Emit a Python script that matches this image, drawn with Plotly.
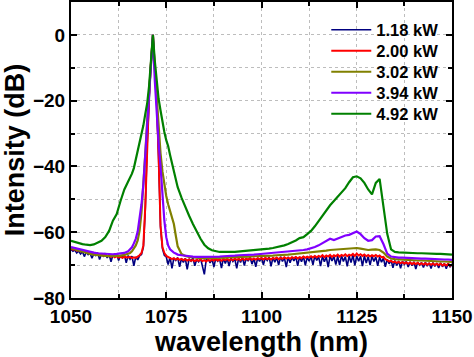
import numpy as np
import plotly.graph_objects as go

# ---------------- data ----------------
# wavelength grid for smooth traces (finer around the signal peak)
wl_coarse = list(range(1050, 1066)) + [1065.5 + 0.5 * i for i in range(26)] + list(range(1079, 1151))
# wavelength grid for noisy low-power traces
wl_fine = [1050 + 0.5 * i for i in range(201)]

series_names = ["1.18 kW", "2.00 kW", "3.02 kW", "3.94 kW", "4.92 kW"]

int_118 = [
    -65.2, -65.8, -65.4, -66.3, -65.7, -66.6, -65.9, -67.4, -66.1, -66.8,
    -66.3, -67.9, -66.5, -67.1, -66.2, -68.3, -66.6, -67.3, -66.4, -67.8,
    -66.7, -69.0, -66.9, -67.5, -66.6, -68.6, -67.0, -67.7, -66.8, -69.3,
    -67.1, -68.2, -67.3, -70.2, -67.5, -68.4, -67.2, -66.8, -64.5, -53.0,
    -33.0, -18.5, -8.2, 0.0, -10.5, -21.0, -38.0, -58.5, -65.0, -67.0,
    -67.5, -69.8, -67.6, -71.0, -67.9, -68.6, -67.7, -70.5, -68.0, -69.2,
    -67.9, -71.3, -68.1, -68.8, -67.8, -70.2, -68.2, -69.0, -67.9, -70.0,
    -72.8, -68.3, -68.0, -69.3, -68.1, -70.6, -67.9, -68.8, -68.2, -70.9,
    -67.8, -69.5, -68.0, -70.3, -67.7, -68.9, -68.1, -71.0, -67.9, -69.2,
    -67.7, -70.1, -67.9, -68.8, -67.6, -69.7, -68.0, -70.5, -67.8, -68.9,
    -67.6, -69.9, -67.8, -68.6, -67.5, -70.4, -67.7, -69.1, -67.6, -70.0,
    -67.4, -68.9, -67.7, -70.6, -67.5, -69.3, -67.6, -68.7, -67.4, -70.2,
    -67.5, -69.0, -67.3, -70.1, -67.6, -68.8, -67.4, -69.9, -67.2, -68.6,
    -67.4, -70.3, -67.3, -69.0, -67.5, -70.6, -67.2, -68.7, -67.4, -69.8,
    -67.3, -70.0, -67.1, -68.9, -67.4, -70.4, -67.2, -69.2, -67.0, -70.1,
    -67.2, -68.8, -67.3, -70.3, -67.1, -69.4, -67.4, -70.0, -67.3, -68.9,
    -67.5, -70.2, -67.6, -69.1, -67.9, -70.5, -68.2, -69.6, -68.4, -70.8,
    -68.6, -70.1, -68.7, -71.0, -68.8, -69.8, -68.9, -70.6, -69.0, -70.2,
    -69.0, -71.2, -69.1, -70.0, -69.2, -70.7, -69.1, -70.3, -69.3, -71.0,
    -69.2, -70.4, -69.4, -70.9, -69.3, -70.5, -69.5, -71.1, -69.4, -70.6,
    -69.6,
]

int_200 = [
    -65.0, -65.3, -65.1, -65.6, -65.4, -65.8, -65.6, -66.0, -65.9, -66.2,
    -66.1, -66.5, -66.3, -66.7, -66.5, -66.9, -66.8, -67.1, -66.9, -67.3,
    -67.1, -67.5, -67.2, -67.6, -67.3, -67.7, -67.4, -67.8, -67.5, -67.6,
    -67.7, -67.5, -67.9, -67.6, -67.8, -67.4, -67.0, -66.3, -64.0, -52.0,
    -32.0, -18.0, -8.0, 0.0, -10.0, -20.0, -37.0, -58.0, -64.5, -66.3,
    -67.2, -67.6, -67.8, -68.2, -67.9, -68.3, -68.0, -68.4, -68.1, -68.5,
    -68.2, -68.6, -68.3, -68.7, -68.4, -68.8, -68.4, -68.7, -68.3, -68.8,
    -68.5, -68.9, -68.4, -68.7, -68.3, -68.6, -68.2, -68.6, -68.3, -68.7,
    -68.2, -68.5, -68.1, -68.6, -68.2, -68.5, -68.0, -68.4, -68.1, -68.5,
    -68.0, -68.4, -68.1, -68.3, -67.9, -68.4, -68.0, -68.3, -67.9, -68.2,
    -67.9, -68.3, -67.8, -68.2, -67.9, -68.3, -67.8, -68.1, -67.7, -68.2,
    -67.8, -68.1, -67.6, -68.0, -67.7, -68.1, -67.6, -67.9, -67.5, -68.0,
    -67.6, -67.9, -67.4, -67.8, -67.4, -67.7, -67.3, -67.7, -67.2, -67.6,
    -67.2, -67.5, -67.0, -67.6, -67.1, -67.4, -66.9, -67.5, -67.0, -67.3,
    -66.8, -67.4, -66.9, -67.2, -66.7, -67.3, -66.8, -67.1, -66.6, -67.2,
    -66.5, -67.1, -66.7, -67.2, -66.8, -67.3, -66.9, -67.4, -67.0, -67.3,
    -66.9, -67.4, -67.1, -67.6, -67.5, -68.2, -68.5, -68.9, -68.7, -69.1,
    -68.9, -69.3, -69.0, -69.4, -69.1, -69.5, -69.2, -69.6, -69.2, -69.7,
    -69.3, -69.7, -69.3, -69.8, -69.4, -69.8, -69.4, -69.9, -69.5, -69.9,
    -69.5, -70.0, -69.6, -70.0, -69.6, -70.1, -69.7, -70.1, -69.7, -70.2,
    -69.8,
]

int_302 = [
    -64.8, -65.2, -65.6, -66.0, -66.3, -66.6, -66.8, -67.0, -67.1, -67.2,
    -67.3, -67.3, -67.2, -67.1, -66.9, -66.6,
    -66.3, -65.8, -65.0, -64.0, -62.5, -59.5, -54.0, -46.0, -36.0, -26.0,
    -17.0, -8.0, 0.0, -10.5, -20.0, -29.0, -36.0, -41.5, -45.5, -49.0,
    -51.5, -53.5, -55.2, -57.5, -61.0, -64.3,
    -66.6, -67.2, -67.5, -67.7, -67.8, -67.9, -67.9, -67.9, -67.9, -67.8,
    -67.8, -67.7, -67.7, -67.6, -67.6, -67.5, -67.5, -67.4, -67.4, -67.3,
    -67.3, -67.2, -67.2, -67.1, -67.1, -67.0, -67.0, -66.9, -66.8, -66.7,
    -66.6, -66.5, -66.4, -66.3, -66.1, -66.0, -65.8, -65.7, -65.6, -65.4,
    -65.3, -65.3, -65.2, -65.1, -65.0, -64.9, -64.8, -65.0, -65.3, -65.4,
    -65.3, -65.2, -65.4, -66.2, -67.4, -68.0, -68.2, -68.3, -68.4, -68.4,
    -68.5, -68.5, -68.6, -68.6, -68.7, -68.7, -68.8, -68.8, -68.9, -68.9,
    -69.0, -69.0,
]

int_394 = [
    -64.5, -64.8, -65.2, -65.5, -65.8, -66.0, -66.2, -66.4, -66.5, -66.6,
    -66.7, -66.7, -66.6, -66.5, -66.3, -65.8,
    -65.2, -64.6, -63.4, -62.0, -59.8, -56.0, -51.5, -45.5, -37.0, -28.5,
    -19.8, -9.5, 0.0, -14.0, -24.5, -33.0, -40.0, -48.5, -56.5, -61.5,
    -64.0, -65.2, -65.8, -66.2, -66.5, -66.8,
    -67.0, -67.2, -67.3, -67.4, -67.5, -67.5, -67.6, -67.6, -67.5, -67.5,
    -67.4, -67.3, -67.3, -67.2, -67.1, -67.0, -67.0, -66.9, -66.8, -66.8,
    -66.7, -66.6, -66.5, -66.4, -66.3, -66.3, -66.2, -66.1, -66.0, -65.9,
    -65.8, -65.6, -65.4, -65.2, -64.9, -64.5, -64.0, -63.4, -62.6, -62.0,
    -62.4, -61.9, -61.3, -61.0, -60.8, -60.3, -59.8, -60.6, -61.8, -62.6,
    -62.4, -61.3, -61.2, -63.6, -66.5, -67.4, -67.6, -67.7, -67.7, -67.8,
    -67.8, -67.9, -67.9, -68.0, -68.0, -68.1, -68.1, -68.2, -68.2, -68.3,
    -68.3, -68.4,
]

int_492 = [
    -62.6, -63.0, -63.4, -63.6, -63.8, -63.9, -63.7, -63.2, -62.6, -61.5,
    -59.6, -56.5, -54.5, -50.5, -47.0, -44.6,
    -43.5, -42.2, -40.5, -38.0, -35.5, -33.0, -30.5, -27.5, -24.0, -20.8,
    -15.5, -8.5, 0.0, -8.0, -14.0, -19.5, -23.0, -26.5, -29.5, -32.0,
    -33.8, -36.5, -38.8, -41.5, -44.0, -46.3,
    -49.5, -52.5, -55.0, -57.5, -59.8, -62.0, -63.8, -64.9, -65.5, -65.8,
    -66.0, -66.0, -66.1, -66.0, -66.0, -65.9, -65.8, -65.8, -65.6, -65.5,
    -65.4, -65.3, -65.1, -65.0, -64.8, -64.6, -64.3, -64.0, -63.6, -63.1,
    -62.5, -61.8, -61.5, -60.6, -59.6, -58.2, -56.5, -55.0, -53.5, -51.8,
    -50.5, -49.2, -48.0, -46.6, -44.8, -43.3, -43.0, -43.6, -45.0, -47.0,
    -48.5, -45.0, -43.8, -52.0, -60.5, -65.2, -66.0, -66.1, -66.2, -66.2,
    -66.3, -66.3, -66.4, -66.4, -66.5, -66.5, -66.5, -66.6, -66.6, -66.7,
    -66.7, -66.8,
]

x_ticks = [1050, 1075, 1100, 1125, 1150]
y_ticks = [-80, -60, -40, -20, 0]

colors = ["#000080", "#FF0000", "#808000", "#8000FF", "#008000"]
xs = [wl_fine, wl_fine, wl_coarse, wl_coarse, wl_coarse]
ys = [int_118, int_200, int_302, int_394, int_492]
widths = [1.6, 2.0, 2.2, 2.2, 2.2]
legend_ids = ["legend", "legend2", "legend3", "legend4", "legend5"]

FONT = "Arial, 'Liberation Sans', sans-serif"

fig = go.Figure()
for name, x, y, c, w, lg in zip(series_names, xs, ys, colors, widths, legend_ids):
    fig.add_trace(go.Scatter(x=x, y=y, mode="lines", name=name, legend=lg,
                             line=dict(color=c, width=w)))

axis_common = dict(
    showline=True, linecolor="black", linewidth=2, mirror="allticks",
    ticks="inside", ticklen=6, tickwidth=2, tickcolor="black",
    showgrid=True, gridcolor="#bdbdbd", griddash="dot", gridwidth=1,
    zeroline=False, automargin=False,
    tickfont=dict(family=FONT, size=19, color="black", weight="bold"),
)

fig.update_xaxes(
    range=[1050, 1150], tickvals=x_ticks, **axis_common,
    minor=dict(dtick=12.5, tick0=1050, ticks="inside", ticklen=4, tickwidth=1.5,
               tickcolor="black", showgrid=True, gridcolor="#bdbdbd",
               griddash="dot", gridwidth=1),
    title=dict(text="wavelength (nm)", standoff=4,
               font=dict(family=FONT, size=27, color="black", weight="bold")),
)
fig.update_yaxes(
    range=[-80, 10], tickvals=y_ticks, **axis_common,
    minor=dict(dtick=10, tick0=-80, ticks="inside", ticklen=4, tickwidth=1.5,
               tickcolor="black", showgrid=True, gridcolor="#bdbdbd",
               griddash="dot", gridwidth=1),
    title=dict(text="Intensity (dB)", standoff=6,
               font=dict(family=FONT, size=27, color="black", weight="bold")),
)

# one legend per entry so rows sit at the reference spacing
legend_style = dict(xanchor="left", yanchor="middle",
                    bgcolor="rgba(0,0,0,0)", borderwidth=0,
                    font=dict(family=FONT, size=16.5, color="black", weight="bold"),
                    itemwidth=40)
row_centres_px = [30, 51, 72, 93, 114]
plot_top, plot_h = 2, 296
layout_legends = {}
for lg, yc in zip(legend_ids, row_centres_px):
    layout_legends[lg] = dict(x=0.67, y=1 - (yc - plot_top) / plot_h, **legend_style)

fig.update_layout(
    width=474, height=357,
    margin=dict(l=71, r=22, t=2, b=59),
    paper_bgcolor="white", plot_bgcolor="white",
    showlegend=True,
    **layout_legends,
)

fig.write_html("out.html", config={"displayModeBar": False},
               post_script="document.body.style.margin='0';document.body.style.padding='0';")
